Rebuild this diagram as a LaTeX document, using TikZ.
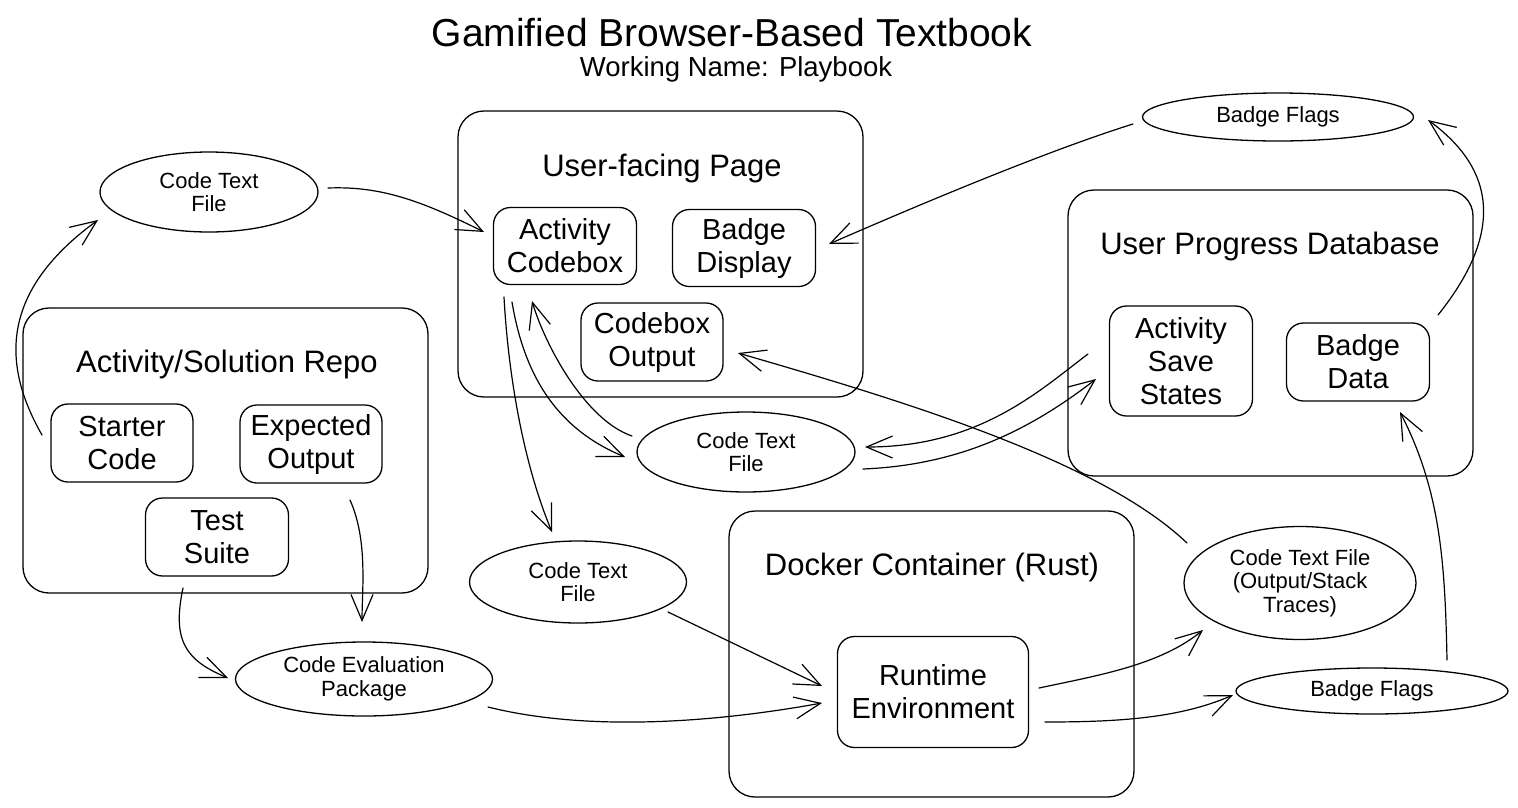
\documentclass[tikz,border=0pt]{standalone}
\usepackage{fontspec}
\setmainfont{Liberation Sans}
\usetikzlibrary{shapes.geometric,arrows.meta}
\tikzset{
  outer/.style={draw, rounded corners=26pt, line width=1.3pt, minimum width=405pt, minimum height=286pt, inner sep=0pt},
  inbox/.style={draw, rounded corners=17pt, line width=1.3pt, minimum width=143pt, minimum height=78pt, inner sep=0pt, align=center, font=\fontsize{29}{33}\selectfont},
  oval/.style={draw, ellipse, line width=1.3pt, inner sep=0pt, align=center, font=\fontsize{22}{23.5}\selectfont},
  grouplabel/.style={font=\fontsize{31}{36}\selectfont, inner sep=0pt},
  conn/.style={line width=1.2pt, line cap=round, -{Straight Barb[length=26pt,width=22pt,line width=1.2pt]}},
}
\begin{document}
\begin{tikzpicture}[x=1pt,y=-1pt]
\useasboundingbox (0,0) rectangle (1518,807);
% title
\node[font=\fontsize{39}{44}\selectfont, inner sep=0pt] (title) at (732,33) {Gamified Browser-Based Textbook};
\node[font=\fontsize{27.5}{30}\selectfont, inner sep=0pt] (subtitle) at (736,69) {Working Name: Playbook};
% containers
\node[outer] (page) at (660.5,254) {};
\node[grouplabel] (pagelabel) at (662,168) {User-facing Page};
\node[outer, minimum height=285pt] (repo) at (225.5,450.5) {};
\node[grouplabel] (repolabel) at (227,364) {Activity/Solution Repo};
\node[outer] (db) at (1270.5,333) {};
\node[grouplabel] (dblabel) at (1270,246) {User Progress Database};
\node[outer] (docker) at (931.5,654) {};
\node[grouplabel] (dockerlabel) at (932,567) {Docker Container (Rust)};
% inner boxes
\node[inbox, minimum height=77pt] (codebox) at (565,246) {Activity\\Codebox};
\node[inbox, minimum height=77pt] (badgedisp) at (744,248) {Badge\\Display};
\node[inbox, minimum width=142pt] (cboutput) at (652,342) {Codebox\\Output};
\node[inbox, minimum width=142pt] (starter) at (122,443) {Starter\\Code};
\node[inbox, minimum width=142pt] (expected) at (311,444) {Expected\\Output};
\node[inbox] (testsuite) at (217,537) {Test\\Suite};
\node[inbox, minimum height=110pt] (savestates) at (1181,361) {Activity\\Save\\States};
\node[inbox] (badgedata) at (1358,362) {Badge\\Data};
\node[inbox, minimum width=191pt, minimum height=111pt] (runtime) at (933,692) {Runtime\\Environment};
% ellipses
\node[oval, minimum width=218pt, minimum height=80pt] (ctf1) at (209,192) {Code Text\\File};
\node[oval, minimum width=271pt, minimum height=48pt] (flags1) at (1278,117) {Badge Flags};
\node[oval, minimum width=218pt, minimum height=80pt] (ctf2) at (746,452) {Code Text\\File};
\node[oval, minimum width=217pt, minimum height=82pt] (ctf3) at (578,582) {Code Text\\File};
\node[oval, minimum width=257pt, minimum height=74pt] (cep) at (364,679) {Code Evaluation\\Package};
\node[oval, minimum width=232pt, minimum height=113pt] (ctfout) at (1300,583) {Code Text File\\(Output/Stack\\Traces)};
\node[oval, minimum width=272pt, minimum height=46pt] (flags2) at (1372,691) {Badge Flags};
% connectors
\draw[conn] ([shift={(-80,-8)}]starter.center) .. controls (5,370) and (-5,295) .. ([shift={(-111,28)}]ctf1.center);
\draw[conn] ([shift={(119,-4)}]ctf1.center) .. controls (380,186) and (420,200) .. ([shift={(-81,-14)}]codebox.center);
\draw[conn] ([shift={(-145,7)}]flags1.center) .. controls (1050,150) and (930,200) .. ([shift={(85,-4)}]badgedisp.center);
\draw[conn] ([shift={(-61,51)}]codebox.center) .. controls (508,370) and (522,460) .. ([shift={(-26,-50)}]ctf3.center);
\draw[conn] ([shift={(-53,56)}]codebox.center) .. controls (525,380) and (560,430) .. ([shift={(-121,5)}]ctf2.center);
\draw[conn] ([shift={(-114,-16)}]ctf2.center) .. controls (585,420) and (545,345) .. ([shift={(-33,55)}]codebox.center);
\draw[conn] ([shift={(-93,-7)}]savestates.center) .. controls (1040,390) and (980,447) .. ([shift={(119,-5)}]ctf2.center);
\draw[conn] ([shift={(117,17)}]ctf2.center) .. controls (960,465) and (1030,430) .. ([shift={(-85,18)}]savestates.center);
\draw[conn] ([shift={(-113,-40)}]ctfout.center) .. controls (1100,460) and (900,400) .. ([shift={(86,11)}]cboutput.center);
\draw[conn] ([shift={(90,30)}]ctf3.center) -- ([shift={(-111,-6)}]runtime.center);
\draw[conn] ([shift={(124,28)}]cep.center) .. controls (580,730) and (700,725) .. ([shift={(-111,11)}]runtime.center);
\draw[conn] ([shift={(39,56)}]expected.center) .. controls (368,540) and (362,590) .. ([shift={(-2,-57)}]cep.center);
\draw[conn] ([shift={(-34,51)}]testsuite.center) .. controls (172,640) and (185,660) .. ([shift={(-136,-1)}]cep.center);
\draw[conn] ([shift={(106,-4)}]runtime.center) .. controls (1100,675) and (1160,665) .. ([shift={(-97,47)}]ctfout.center);
\draw[conn] ([shift={(112,30)}]runtime.center) .. controls (1120,722) and (1180,718) .. ([shift={(-139,4)}]flags2.center);
\draw[conn] ([shift={(75,-31)}]flags2.center) .. controls (1445,560) and (1440,490) .. ([shift={(42,50)}]badgedata.center);
\draw[conn] ([shift={(80,-47)}]badgedata.center) .. controls (1490,250) and (1510,180) .. ([shift={(150,3)}]flags1.center);
\end{tikzpicture}
\end{document}
